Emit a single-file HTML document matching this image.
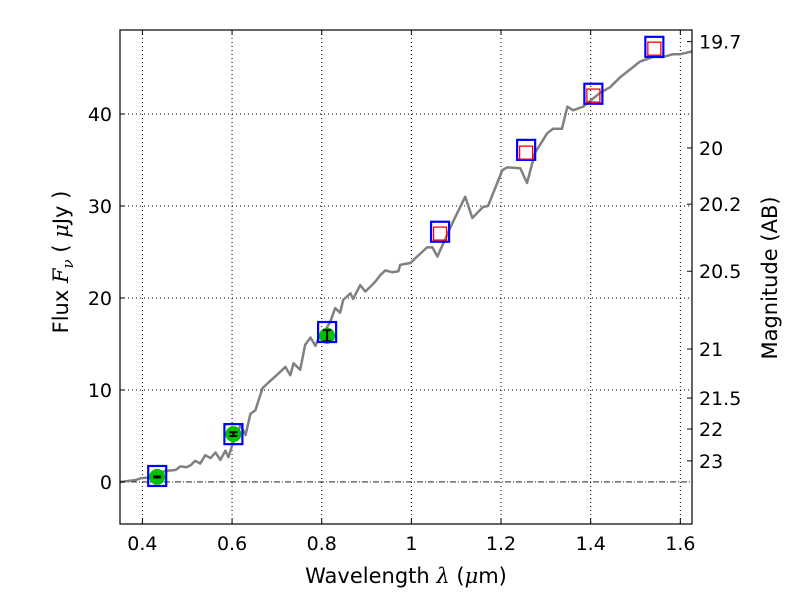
<!DOCTYPE html>
<html><head><meta charset="utf-8"><style>
body{margin:0;background:#fff}
svg text{font-family:"DejaVu Sans","Liberation Sans",sans-serif;fill:#000}
</style></head><body>
<svg id="chart" width="800" height="600" viewBox="0 0 800 600" xmlns="http://www.w3.org/2000/svg">
<rect width="800" height="600" fill="#fff"/>
<g id="grid"></g>
<g id="series"></g>
<g id="axes"></g>
</svg>
<script>
const specLam=[0.35,0.384,0.396,0.418,0.451,0.474,0.485,0.498,0.507,0.518,0.529,0.540,0.552,0.563,0.574,0.585,0.592,0.601,0.619,0.630,0.641,0.652,0.668,0.681,0.697,0.708,0.719,0.730,0.737,0.752,0.763,0.775,0.786,0.797,0.808,0.819,0.830,0.841,0.848,0.864,0.870,0.886,0.897,0.908,0.920,0.931,0.942,0.957,0.971,0.975,0.998,1.004,1.035,1.047,1.058,1.093,1.120,1.136,1.160,1.171,1.203,1.214,1.243,1.258,1.276,1.303,1.316,1.336,1.348,1.361,1.383,1.421,1.443,1.466,1.510,1.539,1.562,1.584,1.600,1.626];
const specFlux=[0,0.2,0.4,0.5,1.2,1.3,1.7,1.6,1.8,2.3,2.0,2.9,2.6,3.2,2.4,3.4,2.7,4.1,6.2,5.1,7.4,7.8,10.2,10.8,11.5,12.0,12.5,11.6,12.9,12.2,14.9,15.7,14.8,16.1,16.5,17.4,18.9,18.4,19.8,20.5,19.9,21.4,20.7,21.2,21.8,22.5,23.0,22.8,22.9,23.6,23.8,24.1,25.5,25.5,24.5,28.3,31.0,28.7,29.9,30.0,33.9,34.2,34.1,32.5,35.8,37.9,38.4,38.4,40.8,40.4,40.8,42.3,42.9,44.0,45.7,46.2,46.2,46.5,46.5,46.8];
const modelLam=[0.433,0.603,0.812,1.064,1.256,1.406,1.542];
const modelFlux=[0.65,5.2,16.3,27.2,36.1,42.2,47.3];
const predLam=[1.064,1.256,1.406,1.542];
const predFlux=[27.0,35.8,42.0,47.1];
const obsLam=[0.433,0.603,0.812];
const obsFlux=[0.55,5.2,15.9];
const obsErr=[0.05,0.2,0.6];
const xTicks=[0.4,0.6,0.8,1.0,1.2,1.4,1.6];
const xTickLabels=["0.4","0.6","0.8","1","1.2","1.4","1.6"];
const yTicks=[0,10,20,30,40];
const magTicks=[19.7,20,20.2,20.5,21,21.5,22,23];

const L=120,R=692,T=30,B=524,x0=0.35,x1=1.626,y0=-4.57,y1=49.13;
const X=v=>L+(v-x0)/(x1-x0)*(R-L);
const Y=v=>B-(v-y0)/(y1-y0)*(B-T);
const NS="http://www.w3.org/2000/svg";
function mk(tag,attrs,parent){const e=document.createElementNS(NS,tag);for(const k in attrs)e.setAttribute(k,attrs[k]);parent.appendChild(e);return e;}
const grid=document.getElementById('grid'),ser=document.getElementById('series'),ax=document.getElementById('axes');

xTicks.forEach(v=>{const l=mk('line',{x1:X(v),x2:X(v),y1:T,y2:B,stroke:'#000','stroke-width':1,'stroke-dasharray':'1,3'},grid);

});
yTicks.forEach(v=>{if(v===0)return;const l=mk('line',{x1:L,x2:R,y1:Y(v),y2:Y(v),stroke:'#000','stroke-width':1,'stroke-dasharray':'1,3'},grid);

});
const zl=mk('line',{x1:L,x2:R,y1:Y(0),y2:Y(0),stroke:'#000','stroke-width':0.8,'stroke-dasharray':'6,2,1,2'},grid);



const sp=mk('polyline',{points:specLam.map((l,i)=>X(l)+','+Y(specFlux[i])).join(' '),fill:'none',stroke:'#808080','stroke-width':2.5,'stroke-linejoin':'round'},ser);



obsLam.forEach((l,i)=>{const c=mk('circle',{cx:X(l),cy:Y(obsFlux[i]),r:8,fill:'#00c000'},ser);


const ya=Y(obsFlux[i]+obsErr[i]),yb=Y(obsFlux[i]-obsErr[i]),xx=X(l);
const e=mk('path',{d:`M${xx},${ya}V${yb}M${xx-4},${ya}H${xx+4}M${xx-4},${yb}H${xx+4}`,stroke:'#000','stroke-width':2,fill:'none'},ser);

});
modelLam.forEach((l,i)=>{const s=mk('rect',{x:X(l)-9,y:Y(modelFlux[i])-10,width:18,height:20,fill:'none',stroke:'#0000ff','stroke-width':2.2},ser);

});
predLam.forEach((l,i)=>{const s=mk('rect',{x:X(l)-6.5,y:Y(predFlux[i])-6.5,width:13,height:13,fill:'none',stroke:'#ff0000','stroke-width':1.3},ser);

});

const fr=mk('rect',{x:L,y:T,width:R-L,height:B-T,fill:'none',stroke:'#000','stroke-width':1.2},ax);


xTicks.forEach((v,i)=>{mk('line',{x1:X(v),x2:X(v),y1:B,y2:B-5,stroke:'#000'},ax);mk('line',{x1:X(v),x2:X(v),y1:T,y2:T+5,stroke:'#000'},ax);
const t=mk('text',{x:X(v),y:B+26,'text-anchor':'middle','font-size':19},ax);t.textContent=xTickLabels[i];

});
yTicks.forEach(v=>{mk('line',{x1:L,x2:L+5,y1:Y(v),y2:Y(v),stroke:'#000'},ax);
const t=mk('text',{x:L-8,y:Y(v)+7,'text-anchor':'end','font-size':19},ax);t.textContent=String(v);

});
magTicks.forEach(m=>{const f=Math.pow(10,(23.9-m)/2.5);const y=Y(f);mk('line',{x1:R,x2:R-5,y1:y,y2:y,stroke:'#000'},ax);
const t=mk('text',{x:R+7,y:y+7,'font-size':19},ax);t.textContent=String(m);

});
</script>
<svg style="position:absolute;left:0;top:0" width="800" height="600">
<text x="406" y="583" text-anchor="middle" font-size="21" font-family="DejaVu Sans, sans-serif">Wavelength  <tspan font-style="italic" font-family="DejaVu Serif, serif">λ</tspan> (<tspan font-style="italic" font-family="DejaVu Serif, serif">μ</tspan>m)</text>
<text transform="translate(68,262) rotate(-90)" text-anchor="middle" font-size="21" font-family="DejaVu Sans, sans-serif">Flux  <tspan font-style="italic" font-family="DejaVu Serif, serif">F<tspan font-size="15" dy="5">ν</tspan></tspan><tspan dy="-5">  (  </tspan><tspan font-style="italic" font-family="DejaVu Serif, serif">μ</tspan>Jy )</text>
<text transform="translate(777,278) rotate(-90)" text-anchor="middle" font-size="21" font-family="DejaVu Sans, sans-serif">Magnitude (AB)</text>
</svg>
</body></html>
